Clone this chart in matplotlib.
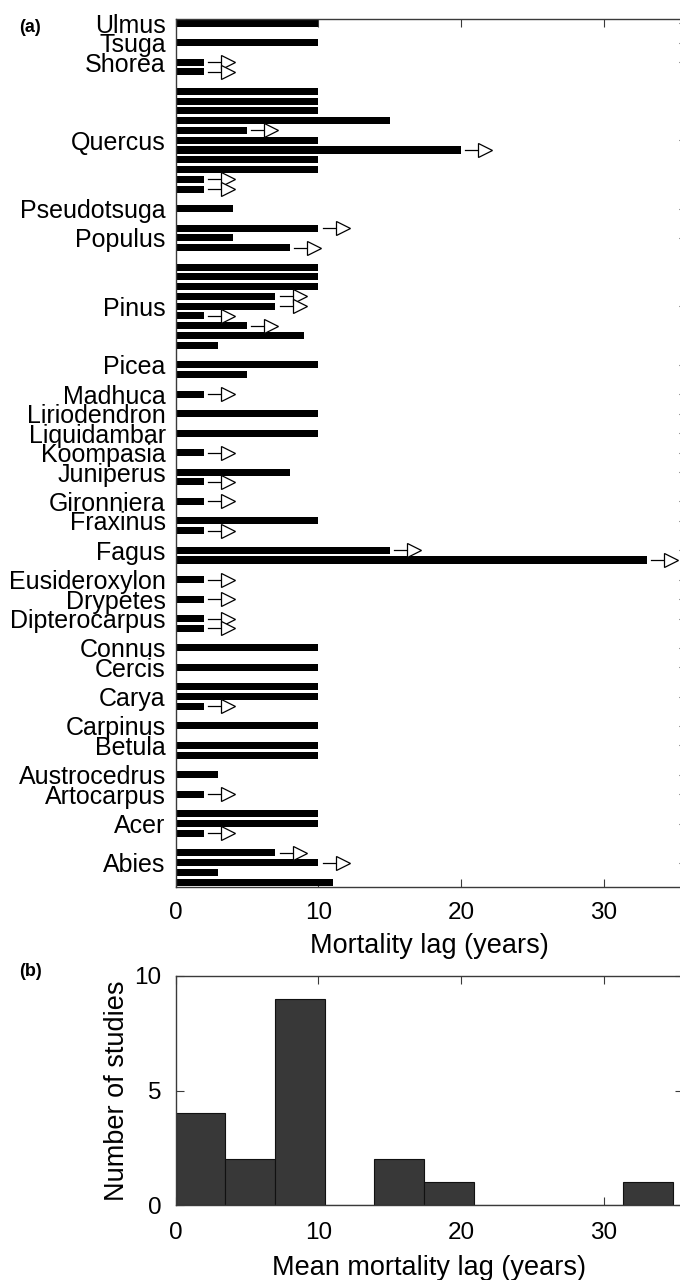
import matplotlib
matplotlib.use("Agg")
import matplotlib.pyplot as plt
import numpy as np

plt.rcParams['font.family'] = ['Liberation Sans', 'DejaVu Sans']

# genus, lag values (years) and whether the lag is a lower bound (arrow)
genera = ["Ulmus", "Tsuga", "Shorea", "Quercus", "Pseudotsuga", "Populus", "Pinus",
          "Picea", "Madhuca", "Liriodendron", "Liquidambar", "Koompasia", "Juniperus",
          "Gironniera", "Fraxinus", "Fagus", "Eusideroxylon", "Drypetes", "Dipterocarpus",
          "Connus", "Cercis", "Carya", "Carpinus", "Betula", "Austrocedrus", "Artocarpus",
          "Acer", "Abies"]
lags = [[10], [10], [2, 2],
        [10, 10, 10, 15, 5, 10, 20, 10, 10, 2, 2],
        [4], [10, 4, 8],
        [10, 10, 10, 7, 7, 2, 5, 9, 3],
        [10, 5], [2], [10], [10], [2], [8, 2], [2], [10, 2], [15, 33],
        [2], [2], [2, 2], [10], [10], [10, 10, 2], [10], [10, 10], [3], [2],
        [10, 10, 2], [7, 10, 3, 11]]
censored = [[0], [0], [1, 1],
            [0, 0, 0, 0, 1, 0, 1, 0, 0, 1, 1],
            [0], [1, 0, 1],
            [0, 0, 0, 1, 1, 1, 1, 0, 0],
            [0, 0], [1], [0], [0], [1], [0, 1], [1], [0, 1], [1, 1],
            [1], [1], [1, 1], [0], [0], [0, 0, 1], [0], [0, 0], [0], [1],
            [0, 0, 1], [1, 1, 0, 0]]

# histogram of mean lag per study
hist_edges = [0, 3.48, 6.96, 10.44, 13.92, 17.4, 20.88, 24.36, 27.84, 31.32, 34.8]
hist_counts = [4, 2, 9, 0, 2, 1, 0, 0, 0, 1]

W, H = 680, 1280
fig = plt.figure(figsize=(W / 100, H / 100), dpi=100)

axc = "#3a3a3a"

# ---- panel (a)
ax = fig.add_axes([175.5 / W, 1 - 887 / H, 507 / W, (887 - 19) / H])
rows, vals, cens, tick_rows = [], [], [], []
r = 0
for g, v, c in zip(genera, lags, censored):
    tick_rows.append(r + (len(v) - 1) // 2)
    for vi, ci in zip(v, c):
        rows.append(r)
        vals.append(vi)
        cens.append(ci)
        r += 1
    r += 1

ax.barh(rows, vals, height=0.72, color="black", zorder=2)
for y, v, c in zip(rows, vals, cens):
    if c:
        ax.plot([v + 0.3, v + 1.25], [y, y], color="black", lw=0.9, zorder=3)
        ax.plot(v + 1.7, y, marker=">", ms=9.5, mfc="white", mec="black",
                mew=0.9, zorder=4)

ax.set_ylim(88.5, -0.42)
ax.set_xlim(0, 35.5)
ax.set_yticks(tick_rows)
ax.set_yticklabels(genera, fontsize=18)
ax.set_xticks([0, 10, 20, 30])
ax.tick_params(axis="x", labelsize=17.5, direction="in", length=6, top=True,
               pad=11, color=axc)
ax.tick_params(axis="y", direction="in", length=3, right=True, pad=7, color=axc)
ax.set_xlabel("Mortality lag (years)", fontsize=19.5, labelpad=6)
for s in ax.spines.values():
    s.set_color(axc)
    s.set_linewidth(1.0)

# ---- panel (b)
bx = fig.add_axes([175.5 / W, 1 - 1205 / H, 507 / W, (1205 - 976) / H])
widths = np.diff(hist_edges)
bx.bar(hist_edges[:-1], hist_counts, width=widths, align="edge",
       color="#383838", edgecolor="#111111", linewidth=0.8, zorder=2)
bx.set_xlim(0, 35.5)
bx.set_ylim(0, 10)
bx.set_xticks([0, 10, 20, 30])
bx.set_yticks([0, 5, 10])
bx.tick_params(labelsize=17.5, direction="in", length=6, top=True, right=True,
               color=axc)
bx.tick_params(axis="x", pad=12)
bx.tick_params(axis="y", pad=10)
bx.set_xlabel("Mean mortality lag (years)", fontsize=19.5, labelpad=8)
bx.set_ylabel("Number of studies", fontsize=19.5, labelpad=3)
for s in bx.spines.values():
    s.set_color(axc)
    s.set_linewidth(1.0)

fig.text(30 / W, 1 - 27 / H, "(a)", fontsize=13, fontweight="bold",
         ha="center", va="center")
fig.text(30 / W, 1 - 972 / H, "(b)", fontsize=13, fontweight="bold",
         ha="center", va="center")

fig.savefig("out.png", dpi=100)
